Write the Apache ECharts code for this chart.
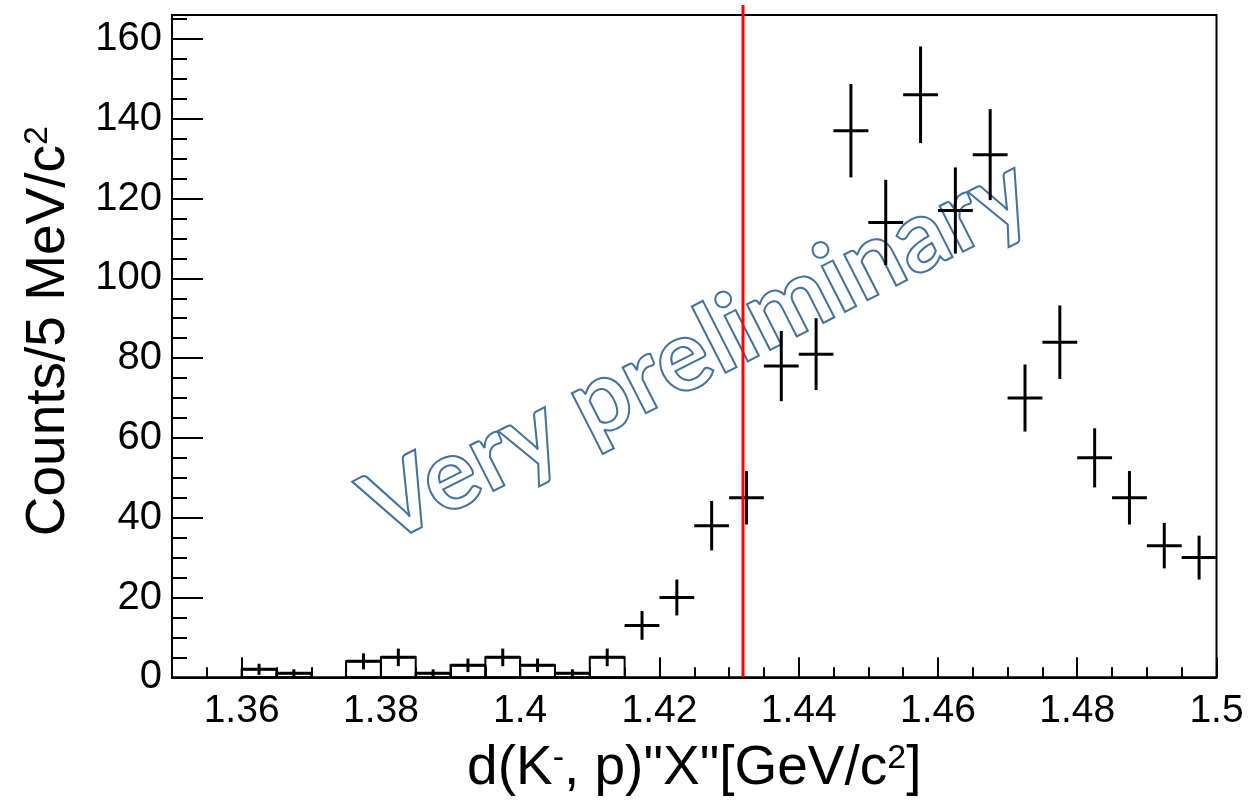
<!DOCTYPE html>
<html>
<head>
<meta charset="utf-8">
<script src="https://cdn.jsdelivr.net/npm/echarts@6/dist/echarts.min.js"></script>
<style>
  html, body { margin: 0; padding: 0; background: #fff; }
  #chart { width: 1252px; height: 802px; }
</style>
</head>
<body>
<div id="chart"></div>
<script>
// Invariant-mass spectrum, 5 MeV/c^2 bins (bin centres in GeV/c^2)
const binCenters = [1.3625, 1.3675, 1.3725, 1.3775, 1.3825, 1.3875, 1.3925, 1.3975,
                    1.4025, 1.4075, 1.4125, 1.4175, 1.4225, 1.4275, 1.4325, 1.4375,
                    1.4425, 1.4475, 1.4525, 1.4575, 1.4625, 1.4675, 1.4725, 1.4775,
                    1.4825, 1.4875, 1.4925, 1.4975];
const counts = [2, 1, 0, 4, 5, 1, 3, 5, 3, 1, 5, 13, 20, 38, 45, 78,
                81, 137, 114, 146, 117, 131, 70, 84, 55, 45, 33, 30];
const countErrors = [1.4, 1, 0, 2, 2.2, 1, 1.7, 2.2, 1.7, 1, 2.2, 3.6, 4.5, 6.2, 6.7, 8.8,
                     9, 11.7, 10.7, 12.1, 10.8, 11.4, 8.4, 9.2, 7.4, 6.7, 5.7, 5.5];
// Low-mass bins that are also drawn as open boxes
const boxCenters = [1.3625, 1.3675, 1.3725, 1.3775, 1.3825, 1.3875, 1.3925, 1.3975,
                    1.4025, 1.4075, 1.4125];
const boxCounts = [2, 1, 0, 4, 5, 1, 3, 5, 3, 1, 5];
const binWidth = 0.005;

// K- p threshold
const thresholdMass = 1.432;

// Axis ticks
const xTickLabels = [1.36, 1.38, 1.40, 1.42, 1.44, 1.46, 1.48, 1.50];
const yTickLabels = [0, 20, 40, 60, 80, 100, 120, 140, 160];
const xRange = [1.35, 1.5];
const yRange = [0, 166];

const FONT = '"Liberation Sans", Arial, Helvetica, sans-serif';

const crossData = binCenters.map((c, i) => [c, counts[i], countErrors[i]]);
const boxData = boxCenters.map((c, i) => [c, boxCounts[i]]);

const chart = echarts.init(document.getElementById('chart'), null, { renderer: 'canvas' });

function fmtX(v) {
  return (Math.round(v * 100) / 100).toString();
}

const option = {
  animation: false,
  backgroundColor: '#ffffff',
  grid: {
    left: 172, right: 35.5, top: 15, bottom: 124.7,
    outerBoundsMode: 'none', containLabel: false,
    show: true, borderColor: '#000', borderWidth: 2, backgroundColor: 'transparent'
  },
  xAxis: [
    {
      type: 'value', min: xRange[0], max: xRange[1], position: 'bottom',
      axisLine: { show: true, onZero: false, lineStyle: { color: '#000', width: 2 } },
      axisTick: { show: true, inside: true, length: 20, customValues: xTickLabels,
                  lineStyle: { color: '#000', width: 2 } },
      axisLabel: { show: true, customValues: xTickLabels, formatter: fmtX, margin: 14,
                   color: '#000', fontFamily: FONT, fontSize: 39 },
      splitLine: { show: false },
      name: 'd(K{sup|-}, p)"X"[GeV/c{sup|2}]',
      nameLocation: 'middle', nameGap: 64,
      nameTextStyle: {
        color: '#000', fontFamily: FONT, fontSize: 55,
        rich: { sup: { fontFamily: FONT, fontSize: 34, verticalAlign: 'top', color: '#000' } }
      }
    },
    {
      type: 'value', min: xRange[0], max: xRange[1], interval: 0.005, position: 'bottom',
      axisLine: { show: false, onZero: false },
      axisTick: { show: true, inside: true, length: 10, lineStyle: { color: '#000', width: 2 } },
      axisLabel: { show: false },
      splitLine: { show: false }
    }
  ],
  yAxis: [
    {
      type: 'value', min: yRange[0], max: yRange[1], position: 'left',
      axisLine: { show: true, onZero: false, lineStyle: { color: '#000', width: 2 } },
      axisTick: { show: true, inside: true, length: 31, customValues: yTickLabels,
                  lineStyle: { color: '#000', width: 2 } },
      axisLabel: { show: true, customValues: yTickLabels, margin: 10,
                   color: '#000', fontFamily: FONT, fontSize: 40 },
      splitLine: { show: false },
      name: 'Counts/5 MeV/c{sup|2}',
      nameLocation: 'middle', nameGap: 96, nameRotate: 90,
      nameTextStyle: {
        color: '#000', fontFamily: FONT, fontSize: 55, padding: [0, 0, 0, 30],
        rich: { sup: { fontFamily: FONT, fontSize: 34, verticalAlign: 'top', color: '#000' } }
      }
    },
    {
      type: 'value', min: yRange[0], max: yRange[1], interval: 5, position: 'left',
      axisLine: { show: false, onZero: false },
      axisTick: { show: true, inside: true, length: 15, lineStyle: { color: '#000', width: 2 } },
      axisLabel: { show: false },
      splitLine: { show: false }
    }
  ],
  graphic: [
    {
      type: 'text', z: 1,
      x: 697, y: 351,
      rotation: 27 * Math.PI / 180,
      style: {
        text: 'Very preliminary',
        font: 'bold 100px Lato, "Open Sans", sans-serif',
        fill: 'rgba(255,255,255,0)',
        stroke: '#41719c', lineWidth: 2,
        align: 'center', verticalAlign: 'middle'
      }
    }
  ],
  series: [
    {
      // open boxes for the low-mass bins
      type: 'custom', name: 'boxes', xAxisIndex: 0, yAxisIndex: 0, z: 3,
      data: boxData,
      renderItem: function (params, api) {
        const c = api.value(0), v = api.value(1);
        if (!(v > 0)) return null;
        const p0 = api.coord([c - binWidth / 2, v]);
        const p1 = api.coord([c + binWidth / 2, 0]);
        return {
          type: 'rect',
          shape: { x: p0[0], y: p0[1], width: p1[0] - p0[0], height: p1[1] - p0[1] },
          style: { fill: 'none', stroke: '#000', lineWidth: 2 }
        };
      }
    },
    {
      // data points with bin-width and statistical error bars
      type: 'custom', name: 'counts', xAxisIndex: 0, yAxisIndex: 0, z: 4,
      data: crossData,
      renderItem: function (params, api) {
        const c = api.value(0), v = api.value(1), e = api.value(2);
        if (!(v > 0)) return null;
        const l = api.coord([c - binWidth / 2, v]);
        const r = api.coord([c + binWidth / 2, v]);
        const t = api.coord([c, v + e]);
        const b = api.coord([c, Math.max(v - e, 0)]);
        const st = { stroke: '#000', lineWidth: 3 };
        return {
          type: 'group',
          children: [
            { type: 'line', shape: { x1: l[0], y1: l[1], x2: r[0], y2: r[1] }, style: st },
            { type: 'line', shape: { x1: t[0], y1: t[1], x2: b[0], y2: b[1] }, style: st }
          ]
        };
      }
    },
    {
      // threshold marker
      type: 'custom', name: 'threshold', xAxisIndex: 0, yAxisIndex: 0, z: 5,
      data: [[thresholdMass]],
      renderItem: function (params, api) {
        const p = api.coord([api.value(0), 0]);
        const top = params.coordSys.y - 10;
        return {
          type: 'line',
          shape: { x1: p[0], y1: p[1], x2: p[0], y2: top },
          style: { stroke: '#ff0000', lineWidth: 3 }
        };
      }
    }
  ]
};

chart.setOption(option);
</script>
</body>
</html>
